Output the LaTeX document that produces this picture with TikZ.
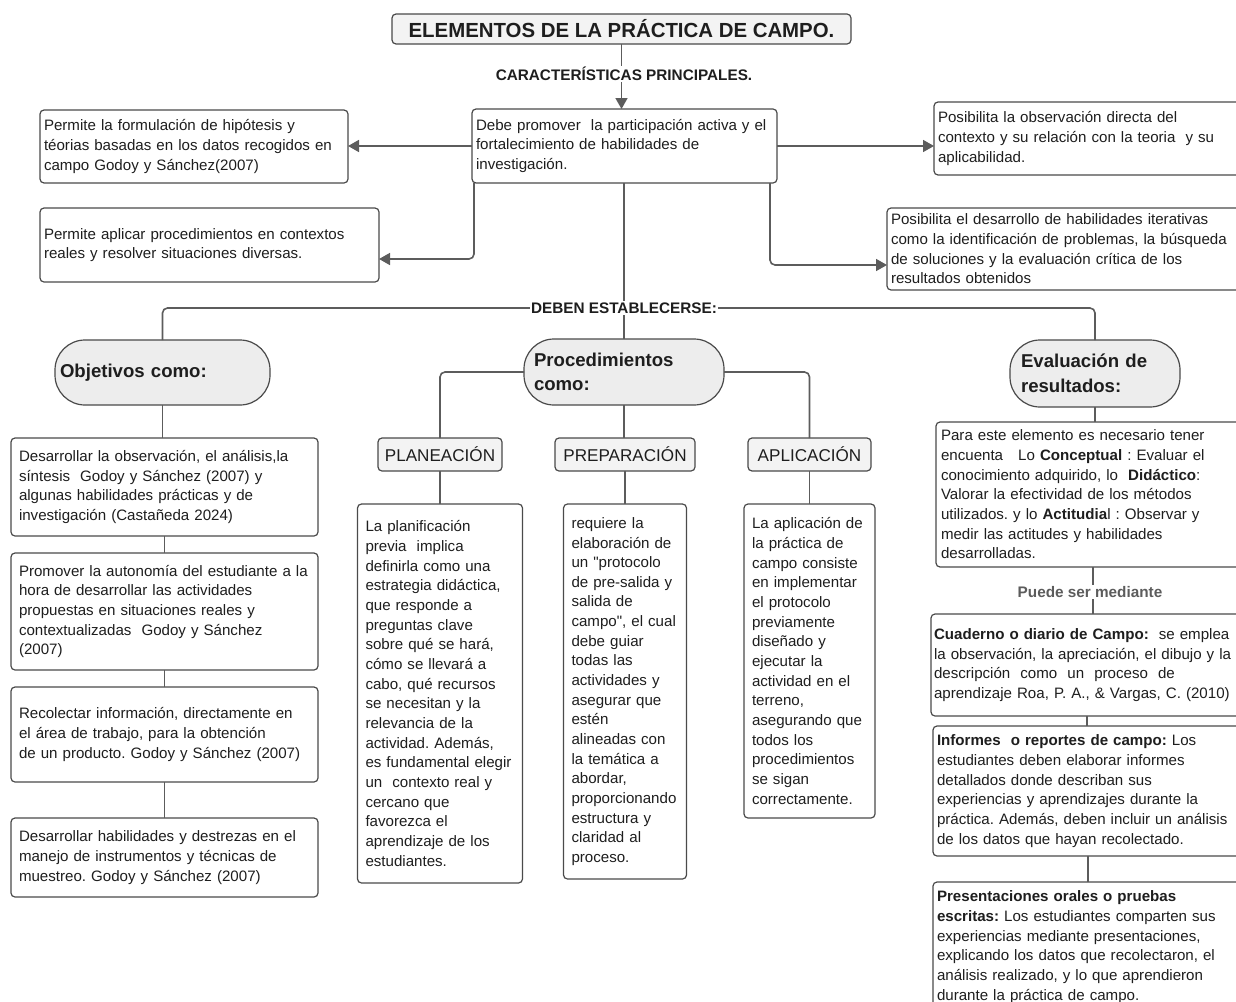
\documentclass[tikz,border=0pt]{standalone}
\usepackage{fontspec}
\setmainfont{Liberation Sans}
\usetikzlibrary{positioning,arrows.meta}
\frenchspacing

\definecolor{inkblack}{HTML}{1E1E1E}
\definecolor{edgegray}{HTML}{4A4A4A}
\definecolor{linkgray}{HTML}{5C5C5C}
\definecolor{pillgray}{HTML}{EDEDED}
\definecolor{stagegray}{HTML}{F3F3F3}

\newcommand{\bodysize}{\fontsize{15.1}{19.65}\selectfont}
\newcommand{\pillsize}{\fontsize{18.6}{24.5}\selectfont}
\newcommand{\stagesize}{\fontsize{17.1}{20}\selectfont}
\newcommand{\tagsize}{\fontsize{15.3}{18}\selectfont}
\newcommand{\titlesize}{\fontsize{20.4}{24}\selectfont}

\begin{document}
\begin{tikzpicture}[
        x=1pt, y=-1pt,
        node distance=17pt,
        >={Triangle[length=11pt,width=12pt]},
        card/.style={
            draw=edgegray,
            line width=1.2pt,
            rounded corners=4pt,
            fill=white,
            align=left,
            outer sep=0pt,
            inner xsep=4pt,
            inner ysep=2pt,
            text=inkblack,
            font=\bodysize
        },
        head/.style={card, fill=stagegray, align=center, font=\titlesize\bfseries},
        pill/.style={card, fill=pillgray, rounded corners=30pt, font=\pillsize\bfseries},
        stage/.style={card, fill=stagegray, align=center, font=\stagesize, inner xsep=2pt, minimum height=33pt},
        link/.style={draw=linkgray, line width=1.6pt, rounded corners=5pt},
        tag/.style={fill=white, inner sep=1.5pt, text=inkblack, font=\tagsize\bfseries}
    ]
        \useasboundingbox (0,0) rectangle (1236,1001);

        % titulo y caracteristicas
        \node[head, minimum width=459pt, minimum height=30pt] (title) at (621.5,29) {ELEMENTOS DE LA PRÁCTICA DE CAMPO.};
        \node[card, text width=297pt, minimum height=74pt, anchor=north west] (debe) at (472,109)
            {Debe promover\ \ la participación activa y el\\fortalecimiento de habilidades de\\investigación.};
        \node[card, text width=300pt, minimum height=73pt, anchor=north west] (hip) at (40,110)
            {Permite la formulación de hipótesis y\\téorias basadas en los datos recogidos en\\campo Godoy y Sánchez(2007)};
        \node[card, text width=331pt, minimum height=74pt, anchor=north west] (apl) at (40,208)
            {Permite aplicar procedimientos en contextos\\reales y resolver situaciones diversas.};
        \node[card, text width=302pt, minimum height=73pt, anchor=north west] (obs) at (934,102)
            {Posibilita la observación directa del\\contexto y su relación con la teoria\ \ y su\\aplicabilidad.};
        \node[card, text width=349pt, minimum height=82pt, anchor=north west] (itr) at (887,208)
            {Posibilita el desarrollo de habilidades iterativas\\como la identificación de problemas, la búsqueda\\de soluciones y la evaluación crítica de los\\resultados obtenidos};

        \draw[link, ->] (title.south) -- (title.south |- debe.north);
        \node[tag] (chars) at (624,74) {CARACTERÍSTICAS PRINCIPALES.};
        \draw[link, ->] (debe.west) -- (debe.west -| hip.east);
        \draw[link, ->] ([xshift=2pt]debe.south west) |- ([yshift=-14pt]apl.east);
        \draw[link, ->] (debe.east) -- (debe.east -| obs.west);
        \draw[link, ->] ([xshift=-7pt]debe.south east) |- ([yshift=-16pt]itr.west);

        % tres ramas
        \node[pill, text width=205pt, minimum height=65pt, inner xsep=5pt, anchor=north west] (obj) at (55,340) {Objetivos como:};
        \node[pill, text width=180pt, minimum height=66pt, inner xsep=10pt, anchor=north west] (proc) at (524,339) {Procedimientos\\como:};
        \node[pill, text width=148pt, minimum height=67pt, inner xsep=11pt, anchor=north west] (eva) at (1010,340) {Evaluación de\\resultados:};

        \coordinate (split) at (624,308);
        \draw[link] (proc.north |- debe.south) -- (proc.north);
        \draw[link] (obj.north) |- (split) -| (eva.north);
        \node[tag] (must) at (split) {DEBEN ESTABLECERSE:};

        % objetivos
        \node[card, text width=291pt, minimum height=98pt, inner xsep=8pt, anchor=north west] (o1) at (11,438)
            {Desarrollar la observación, el análisis,la\\síntesis\ \ Godoy y Sánchez (2007) y\\algunas habilidades prácticas y de\\investigación (Castañeda 2024)};
        \node[card, text width=291pt, minimum height=117pt, inner xsep=8pt, below=of o1] (o2)
            {Promover la autonomía del estudiante a la\\hora de desarrollar las actividades\\propuestas en situaciones reales y\\contextualizadas\ \ Godoy y Sánchez\\(2007)};
        \node[card, text width=291pt, minimum height=95pt, inner xsep=8pt, below=of o2] (o3)
            {Recolectar información, directamente en\\el área de trabajo, para la obtención\\de un producto. Godoy y Sánchez (2007)};
        \node[card, text width=291pt, minimum height=79pt, inner xsep=8pt, below=36pt of o3] (o4)
            {Desarrollar habilidades y destrezas en el\\manejo de instrumentos y técnicas de\\muestreo. Godoy y Sánchez (2007)};

        \draw[link] (obj.south) -- (obj.south |- o1.north);
        \draw[link] (o1.south) -- (o2.north);
        \draw[link] (o2.south) -- (o3.north);
        \draw[link] (o3.south) -- (o4.north);

        % procedimientos
        \node[stage, minimum width=124pt, anchor=north west] (pla) at (378,438) {PLANEACIÓN};
        \node[stage, minimum width=140pt, anchor=north west] (pre) at (555,438) {PREPARACIÓN};
        \node[stage, minimum width=123pt, anchor=north west] (apc) at (748,438) {APLICACIÓN};

        \node[card, text width=149pt, minimum height=379pt, inner xsep=8pt, below=33pt of pla] (plaT)
            {La planificación\\previa\ \ implica\\definirla como una\\estrategia didáctica,\\que responde a\\preguntas clave\\sobre qué se hará,\\cómo se llevará a\\cabo, qué recursos\\se necesitan y la\\relevancia de la\\actividad. Además,\\es fundamental elegir\\un\ \ contexto real y\\cercano que\\favorezca el\\aprendizaje de los\\estudiantes.};
        \node[card, text width=107pt, minimum height=375pt, inner xsep=8pt, below=33pt of pre] (preT)
            {requiere la\\elaboración de\\un \textquotedbl{}protocolo\\de pre-salida y\\salida de\\campo\textquotedbl{}, el cual\\debe guiar\\todas las\\actividades y\\asegurar que\\estén\\alineadas con\\la temática a\\abordar,\\proporcionando\\estructura y\\claridad al\\proceso.};
        \node[card, text width=115pt, minimum height=314pt, inner xsep=8pt, below=33pt of apc] (apcT)
            {La aplicación de\\la práctica de\\campo consiste\\en implementar\\el protocolo\\previamente\\diseñado y\\ejecutar la\\actividad en el\\terreno,\\asegurando que\\todos los\\procedimientos\\se sigan\\correctamente.};

        \draw[link] (proc.west) -| (pla.north);
        \draw[link] (proc.south) -- (proc.south |- pre.north);
        \draw[link] (proc.east) -| (apc.north);
        \draw[link] (pla.south) -- (plaT.north);
        \draw[link] (pre.south) -- (preT.north);
        \draw[link] (apc.south) -- (apcT.north);

        % evaluacion
        \node[card, text width=304pt, minimum height=145pt, inner xsep=5pt, anchor=north west] (e1) at (936,422)
            {Para este elemento es necesario tener\\encuenta\ \ \ Lo \textbf{Conceptual} : Evaluar el\\conocimiento adquirido, lo\ \ \textbf{Didáctico}:\\Valorar la efectividad de los métodos\\utilizados. y lo \textbf{Actitudia}l : Observar y\\medir las actitudes y habilidades\\desarrolladas.};
        \node[card, text width=306pt, minimum height=102pt, inner xsep=3pt, anchor=north west] (e2) at (931,614)
            {\textbf{Cuaderno o diario de Campo:}\ \ se emplea\\la observación, la apreciación, el dibujo y la\\descripción\ \ como\ \ un\ \ proceso\ \ de\\aprendizaje Roa, P. A., \& Vargas, C. (2010)};
        \node[card, text width=302pt, minimum height=130pt, anchor=north west] (e3) at (933,726)
            {\textbf{Informes\ \ o reportes de campo:} Los\\estudiantes deben elaborar informes\\detallados donde describan sus\\experiencias y aprendizajes durante la\\práctica. Además, deben incluir un análisis\\de los datos que hayan recolectado.};
        \node[card, text width=302pt, minimum height=130pt, anchor=north west] (e4) at (933,882)
            {\textbf{Presentaciones orales o pruebas}\\\textbf{escritas:} Los estudiantes comparten sus\\experiencias mediante presentaciones,\\explicando los datos que recolectaron, el\\análisis realizado, y lo que aprendieron\\durante la práctica de campo.};

        \draw[link] (eva.south) -- (eva.south |- e1.north);
        \draw[link] (e1.south) -- (e1.south |- e2.north);
        \node[tag, text=linkgray] (via) at (1090,592) {Puede ser mediante};
        \draw[link] (e2.south) -- (e2.south |- e3.north);
        \draw[link] (e3.south) -- (e3.south |- e4.north);
    \end{tikzpicture}
\end{document}
